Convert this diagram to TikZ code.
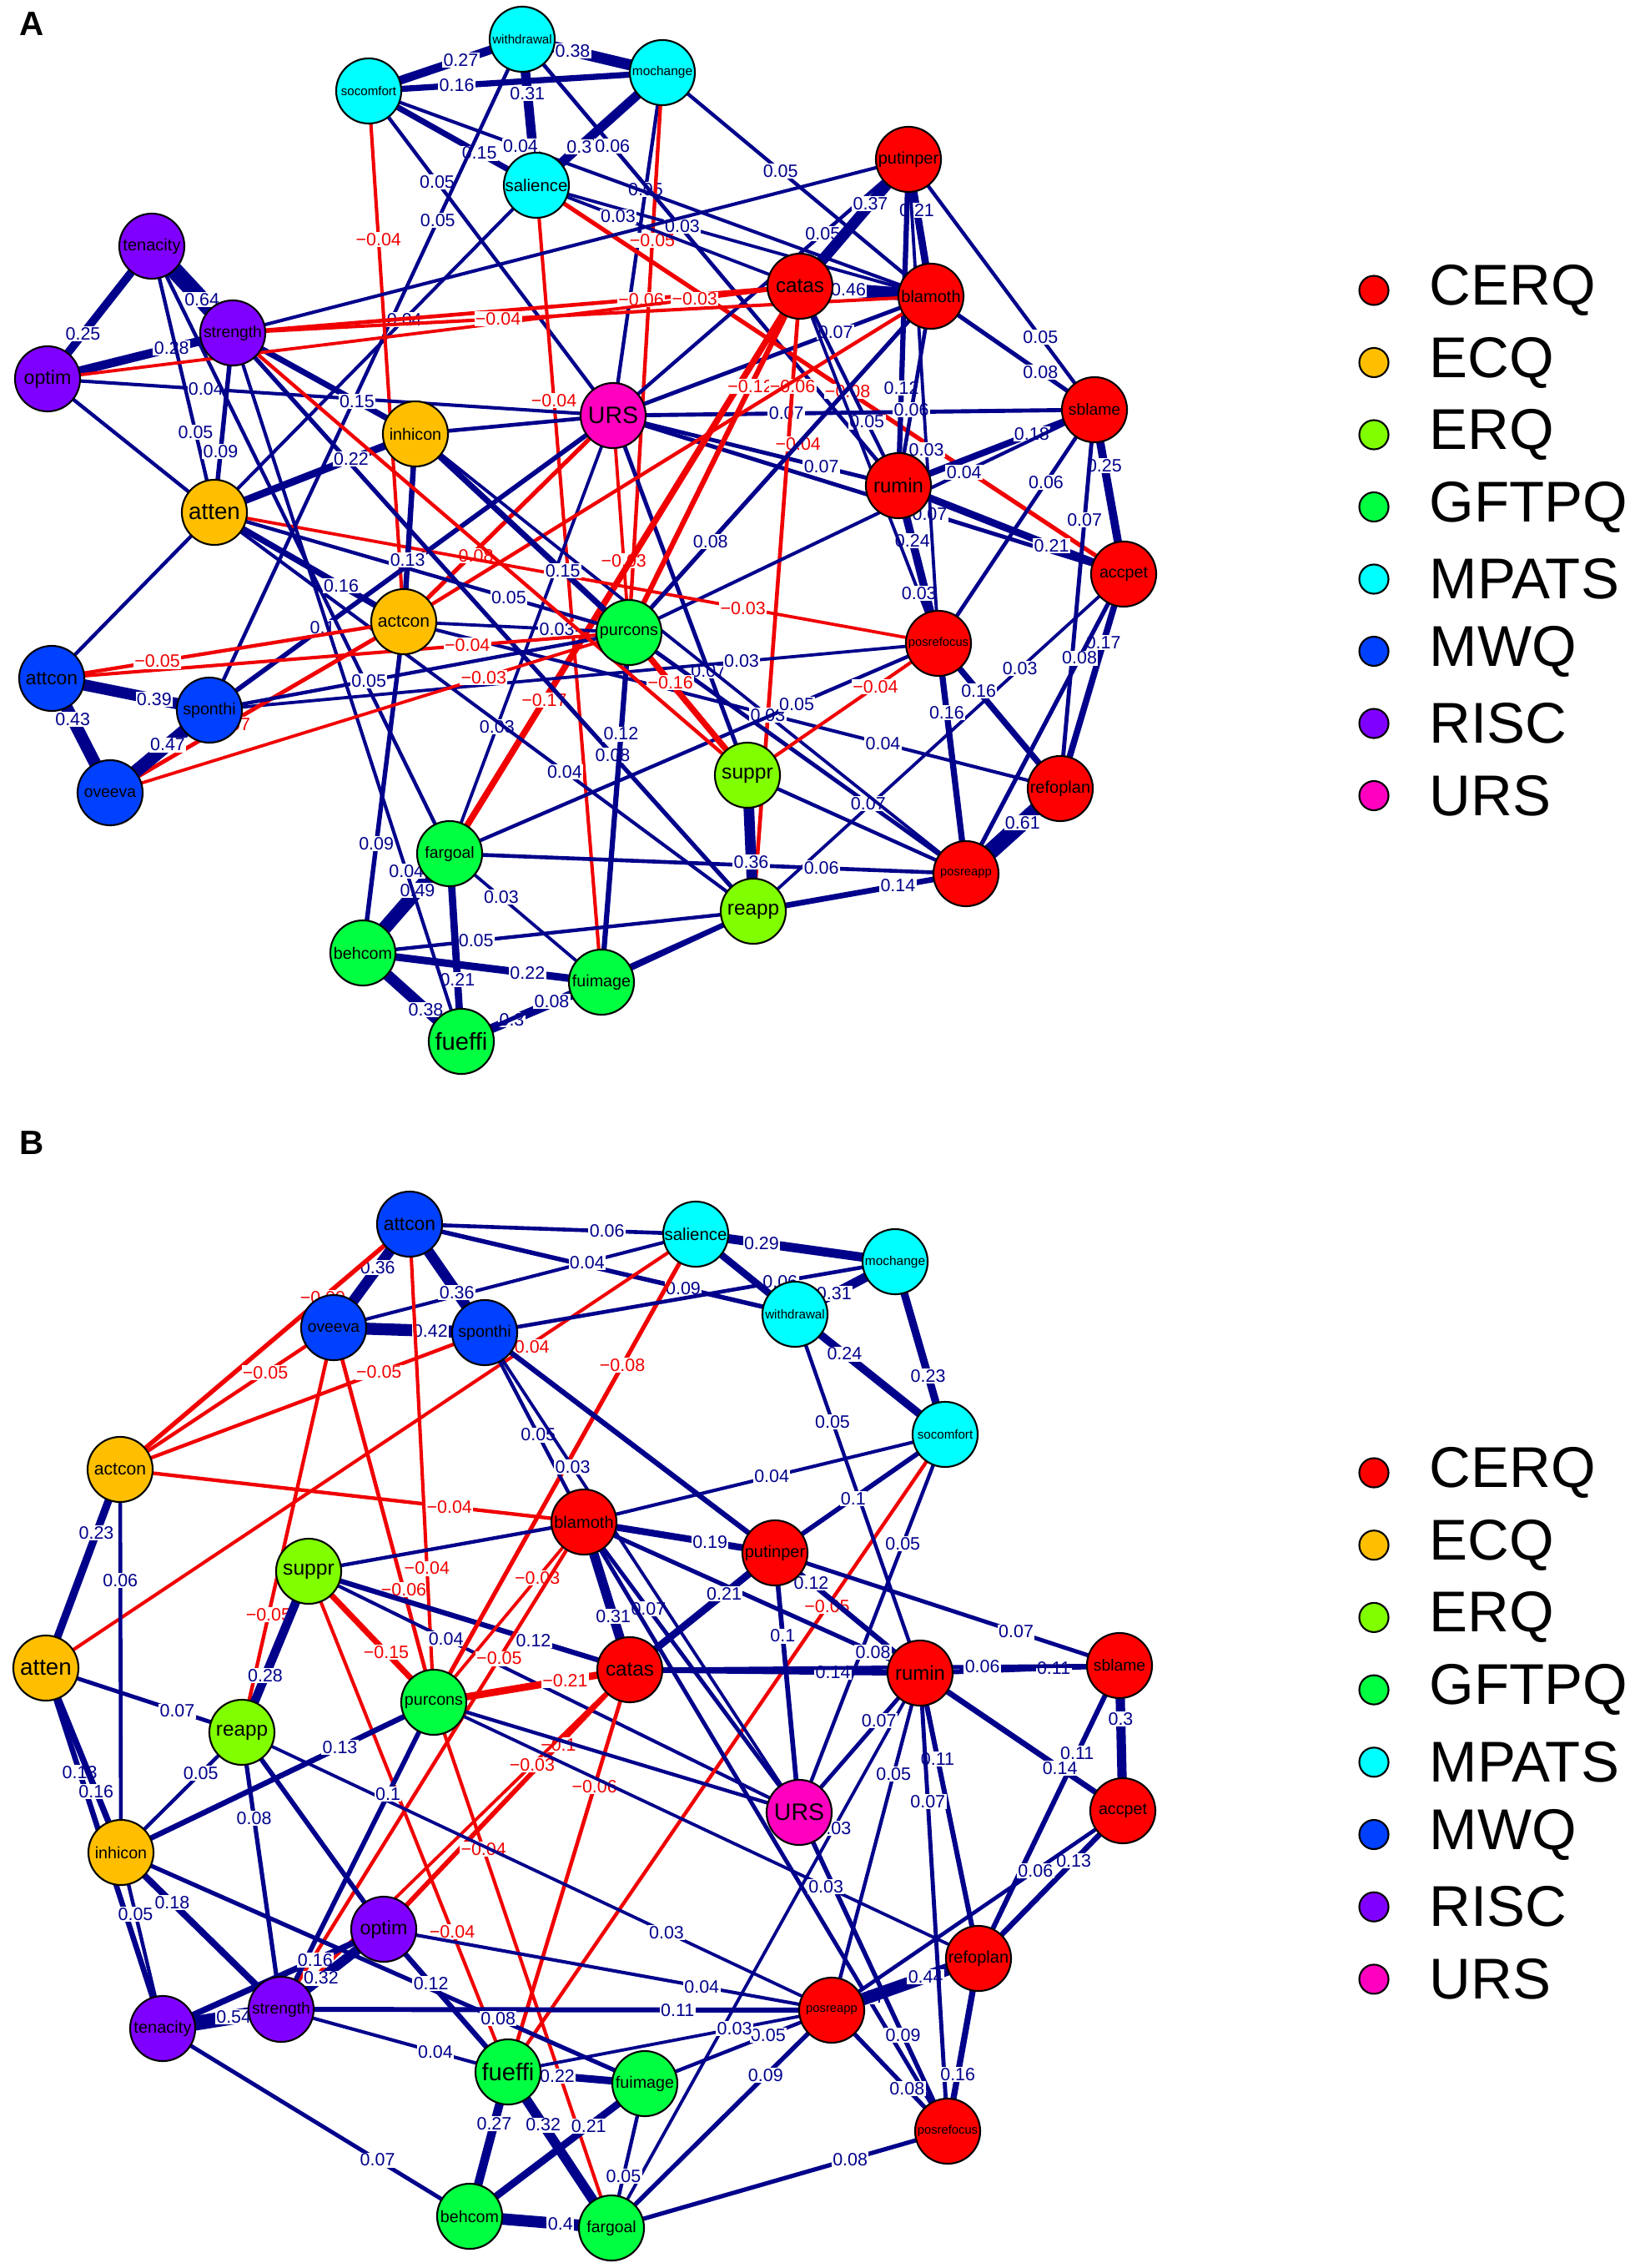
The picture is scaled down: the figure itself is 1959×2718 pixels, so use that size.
\documentclass[tikz,border=0pt]{standalone}
\usepackage{fontspec}
\setmainfont{Liberation Sans}
\newcommand{\nfs}[1]{\fontsize{#1}{#1}\selectfont}
\definecolor{cerqcol}{HTML}{FF0000}
\definecolor{ecqcol}{HTML}{FFBF00}
\definecolor{erqcol}{HTML}{80FF00}
\definecolor{gftpqcol}{HTML}{00FF40}
\definecolor{mpatscol}{HTML}{00FFFF}
\definecolor{mwqcol}{HTML}{0040FF}
\definecolor{risccol}{HTML}{8000FF}
\definecolor{urscol}{HTML}{FF00BF}
\definecolor{edgeblue}{HTML}{00008B}
\definecolor{edgered}{HTML}{F00000}
\pgfdeclarelayer{edgelayer}
\pgfsetlayers{edgelayer,main}
\begin{document}
\begin{tikzpicture}[x=0.01cm, y=-0.01cm]

      \tikzset{vert/.style={draw=black, circle, line width=0.6pt, inner sep=0pt, minimum size=0.78cm, text=black},
               cerq/.style={vert, fill=cerqcol}, ecq/.style={vert, fill=ecqcol}, erq/.style={vert, fill=erqcol},
               gftpq/.style={vert, fill=gftpqcol}, mpats/.style={vert, fill=mpatscol}, mwq/.style={vert, fill=mwqcol},
               risc/.style={vert, fill=risccol}, urs/.style={vert, fill=urscol},
               posw/.style={draw=edgeblue, line width={(0.85+7.7*#1)*1pt}},
               negw/.style={draw=edgered, line width={(0.85+7.7*#1)*1pt}},
               plab/.style={fill=white, inner sep=0.4pt, text=edgeblue, font=\nfs{6.1}},
               nlab/.style={fill=white, inner sep=0.4pt, text=edgered, font=\nfs{6.1}},
               legdot/.style={draw=black, circle, line width=0.6pt, inner sep=0pt, minimum size=0.35cm},
               legtxt/.style={anchor=west, inner sep=0pt, font=\nfs{19.6}},
               panel/.style={font=\bfseries\nfs{11.5}}}
      \useasboundingbox (0,0) rectangle (1959,2718);

%% Panel A vertices
      	\node[panel] (panA) at (38,29) {A};
      	\node[mpats, font=\nfs{4.3}] (aso) at (442,109) {socomfort};
      	\node[mpats, font=\nfs{4.3}] (awi) at (626,47) {withdrawal};
      	\node[mpats, font=\nfs{4.4}] (amo) at (794,87) {mochange};
      	\node[mpats, font=\nfs{5.8}] (asa) at (643,222) {salience};
      	\node[cerq, font=\nfs{5.7}] (apu) at (1089,191) {putinper};
      	\node[risc, font=\nfs{5.7}] (ate) at (182,295) {tenacity};
      	\node[cerq, font=\nfs{6.9}] (aca) at (959,343) {catas};
      	\node[cerq, font=\nfs{5.7}] (abl) at (1116,355) {blamoth};
      	\node[risc, font=\nfs{5.5}] (ast) at (279,399) {strength};
      	\node[risc, font=\nfs{6.6}] (aop) at (57,454) {optim};
      	\node[urs, font=\nfs{8.1}] (aur) at (735,498) {URS};
      	\node[ecq, font=\nfs{5.6}] (aih) at (498,520) {inhicon};
      	\node[cerq, font=\nfs{5.5}] (asb) at (1312,491) {sblame};
      	\node[cerq, font=\nfs{6.8}] (aru) at (1077,582) {rumin};
      	\node[ecq, font=\nfs{7.9}] (aat) at (257,614) {atten};
      	\node[cerq, font=\nfs{5.6}] (aac) at (1347,688) {accpet};
      	\node[ecq, font=\nfs{6.0}] (aan) at (484,745) {actcon};
      	\node[gftpq, font=\nfs{5.6}] (apc) at (754,758) {purcons};
      	\node[cerq, font=\nfs{4.2}] (apf) at (1125,771) {posrefocus};
      	\node[mwq, font=\nfs{6.5}] (aao) at (62,813) {attcon};
      	\node[mwq, font=\nfs{5.6}] (asp) at (251,851) {sponthi};
      	\node[mwq, font=\nfs{5.5}] (aov) at (132,950) {oveeva};
      	\node[erq, font=\nfs{7.0}] (asu) at (896,929) {suppr};
      	\node[cerq, font=\nfs{5.7}] (arf) at (1271,945) {refoplan};
      	\node[gftpq, font=\nfs{5.5}] (afg) at (539,1023) {fargoal};
      	\node[cerq, font=\nfs{4.2}] (apr) at (1158,1047) {posreapp};
      	\node[erq, font=\nfs{6.9}] (are) at (903,1092) {reapp};
      	\node[gftpq, font=\nfs{5.6}] (abc) at (435,1142) {behcom};
      	\node[gftpq, font=\nfs{5.6}] (afi) at (721,1177) {fuimage};
      	\node[gftpq, font=\nfs{8.3}] (afe) at (553,1248) {fueffi};

%% Panel B vertices
      	\node[panel] (panB) at (38,1370) {B};
      	\node[mwq, font=\nfs{6.5}] (bao) at (491,1467) {attcon};
      	\node[mpats, font=\nfs{5.8}] (bsa) at (834,1479) {salience};
      	\node[mpats, font=\nfs{4.4}] (bmo) at (1073,1512) {mochange};
      	\node[mwq, font=\nfs{5.5}] (bov) at (400,1591) {oveeva};
      	\node[mwq, font=\nfs{5.6}] (bsp) at (581,1597) {sponthi};
      	\node[mpats, font=\nfs{4.3}] (bwi) at (953,1575) {withdrawal};
      	\node[mpats, font=\nfs{4.3}] (bso) at (1133,1719) {socomfort};
      	\node[ecq, font=\nfs{6.0}] (ban) at (144,1761) {actcon};
      	\node[cerq, font=\nfs{5.7}] (bbl) at (700,1824) {blamoth};
      	\node[cerq, font=\nfs{5.7}] (bpu) at (929,1861) {putinper};
      	\node[erq, font=\nfs{7.0}] (bsu) at (370,1883) {suppr};
      	\node[ecq, font=\nfs{7.9}] (bat) at (55,1999) {atten};
      	\node[cerq, font=\nfs{6.9}] (bca) at (755,2001) {catas};
      	\node[gftpq, font=\nfs{5.6}] (bpc) at (520,2040) {purcons};
      	\node[cerq, font=\nfs{6.8}] (bru) at (1103,2005) {rumin};
      	\node[cerq, font=\nfs{5.5}] (bsb) at (1342,1996) {sblame};
      	\node[erq, font=\nfs{6.9}] (bre) at (290,2076) {reapp};
      	\node[urs, font=\nfs{8.1}] (bur) at (958,2172) {URS};
      	\node[cerq, font=\nfs{5.6}] (bac) at (1346,2170) {accpet};
      	\node[ecq, font=\nfs{5.6}] (bih) at (145,2220) {inhicon};
      	\node[risc, font=\nfs{6.6}] (bop) at (460,2312) {optim};
      	\node[cerq, font=\nfs{5.7}] (brf) at (1173,2347) {refoplan};
      	\node[cerq, font=\nfs{4.2}] (bpr) at (997,2409) {posreapp};
      	\node[risc, font=\nfs{5.7}] (bte) at (195,2431) {tenacity};
      	\node[risc, font=\nfs{5.5}] (bst) at (337,2408) {strength};
      	\node[gftpq, font=\nfs{8.3}] (bfe) at (609,2483) {fueffi};
      	\node[gftpq, font=\nfs{5.6}] (bfi) at (773,2497) {fuimage};
      	\node[cerq, font=\nfs{4.2}] (bpf) at (1136,2554) {posrefocus};
      	\node[gftpq, font=\nfs{5.6}] (bbc) at (563,2656) {behcom};
      	\node[gftpq, font=\nfs{5.5}] (bfg) at (733,2670) {fargoal};

%% Legends
      	\foreach \g/\c [count=\i from 0] in {CERQ/cerqcol, ECQ/ecqcol, ERQ/erqcol, GFTPQ/gftpqcol, MPATS/mpatscol, MWQ/mwqcol, RISC/risccol, URS/urscol} {
      	  \node[legdot, fill=\c] (ka\i) at (1647,{348+86.5*\i}) {};
      	  \node[legtxt] (kat\i) at (1713,{348+86.5*\i}) {\g};
      	  \node[legdot, fill=\c] (kb\i) at (1647,{1765+86.7*\i}) {};
      	  \node[legtxt] (kbt\i) at (1713,{1765+86.7*\i}) {\g};
      	}

\begin{pgfonlayer}{edgelayer}
%Edges A
		\path (aso.center) edge[posw=0.27] node[plab, pos=.60] {0.27} (awi.center);
		\path (aso.center) edge[posw=0.16] node[plab, pos=.30] {0.16} (amo.center);
		\path (awi.center) edge[posw=0.38] node[plab, pos=.36] {0.38} (amo.center);
		\path (awi.center) edge[posw=0.31] node[plab, pos=.37] {0.31} (asa.center);
		\path (amo.center) edge[posw=0.30] node[plab, pos=.66] {0.3} (asa.center);
		\path (aso.center) edge[posw=0.15] node[plab, pos=.66] {0.15} (asa.center);
		\path (aso.center) edge[posw=0.05] node[plab, pos=.28] {0.05} (aur.center);
		\path (awi.center) edge[posw=0.05] node[plab, pos=.27] {0.05} (asp.center);
		\path (amo.center) edge[posw=0.05] node[plab, pos=.34] {0.05} (aur.center);
		\path (amo.center) edge[negw=0.05] node[nlab, pos=.30] {−0.05} (apc.center);
		\path (amo.center) edge[posw=0.05] node[plab, pos=.44] {0.05} (abl.center);
		\path (awi.center) edge[posw=0.06] node[plab, pos=.24] {0.06} (aru.center);
		\path (asa.center) edge[posw=0.03] node[plab, pos=.37] {0.03} (abl.center);
		\path (asa.center) edge[posw=0.03] node[plab, pos=.31] {0.03} (aca.center);
		\path (asa.center) edge[negw=0.08] node[nlab, pos=.53] {−0.08} (aac.center);
		\path (asa.center) edge[posw=0.04] node[plab, pos=.41] {0.04} (aat.center);
		\path (asa.center) edge[negw=0.04] node[nlab, pos=.27] {−0.04} (afi.center);
		\path (aso.center) edge[negw=0.04] node[nlab, pos=.28] {−0.04} (aan.center);
		\path (aso.center) edge[posw=0.04] node[plab, pos=.27] {0.04} (abl.center);
		\path (aop.center) edge[posw=0.04] node[plab, pos=.28] {0.04} (aur.center);
		\path (aur.center) edge[posw=0.07] node[plab, pos=.36] {0.07} (asb.center);
		\path (aur.center) edge[posw=0.07] node[plab, pos=.73] {0.07} (aru.center);
		\path (aur.center) edge[posw=0.05] node[plab, pos=.71] {0.05} (apu.center);
		\path (aur.center) edge[posw=0.07] node[plab, pos=.70] {0.07} (abl.center);
		\path (aur.center) edge[posw=0.03] node[plab, pos=.71] {0.03} (afg.center);
		\path (aur.center) edge[posw=0.07] node[plab, pos=.71] {0.07} (asu.center);
		\path (aur.center) edge[negw=0.03] node[nlab, pos=.67] {−0.03} (apc.center);
		\path (aur.center) edge[negw=0.08] node[nlab, pos=.68] {−0.08} (aan.center);
		\path (aur.center) edge[posw=0.10] node[plab, pos=.72] {0.1} (asp.center);
		\path (aih.center) edge[posw=0.06] (aur.center);
		\path (aur.center) edge[posw=0.07] node[plab, pos=.62] {0.07} (aac.center);
		\path (apu.center) edge[posw=0.37] node[plab, pos=.35] {0.37} (aca.center);
		\path (apu.center) edge[posw=0.21] node[plab, pos=.37] {0.21} (abl.center);
		\path (apu.center) edge[posw=0.12] node[plab, pos=.70] {0.12} (aru.center);
		\path (apu.center) edge[posw=0.05] node[plab, pos=.71] {0.05} (asb.center);
		\path (abl.center) edge[posw=0.08] node[plab, pos=.67] {0.08} (asb.center);
		\path (aca.center) edge[posw=0.46] node[plab, pos=.37] {0.46} (abl.center);
		\path (aca.center) edge[posw=0.05] node[plab, pos=.68] {0.05} (aru.center);
		\path (aca.center) edge[negw=0.17] node[nlab, pos=.73] {−0.17} (afg.center);
		\path (aca.center) edge[negw=0.12] node[nlab, pos=.29] {−0.12} (apc.center);
		\path (aca.center) edge[negw=0.06] node[nlab, pos=.16] {−0.06} (are.center);
		\path (abl.center) edge[negw=0.04] node[nlab, pos=.44] {−0.04} (apc.center);
		\path (abl.center) edge[negw=0.05] (aan.center);
		\path (aru.center) edge[posw=0.18] node[plab, pos=.68] {0.18} (asb.center);
		\path (apc.center) edge[posw=0.04] node[plab, pos=.72] {0.04} (asb.center);
		\path (aru.center) edge[posw=0.21] node[plab, pos=.68] {0.21} (aac.center);
		\path (aru.center) edge[posw=0.24] node[plab, pos=.35] {0.24} (apf.center);
		\path (aca.center) edge[posw=0.03] node[plab, pos=.86] {0.03} (apf.center);
		\path (abl.center) edge[posw=0.06] node[plab, pos=.60] {0.06} (aru.center);
		\path (apu.center) edge[posw=0.03] node[plab, pos=.60] {0.03} (apf.center);
		\path (asb.center) edge[posw=0.25] node[plab, pos=.34] {0.25} (aac.center);
		\path (asb.center) edge[posw=0.07] node[plab, pos=.29] {0.07} (arf.center);
		\path (asb.center) edge[posw=0.06] node[plab, pos=.31] {0.06} (apf.center);
		\path (aac.center) edge[posw=0.17] node[plab, pos=.32] {0.17} (arf.center);
		\path (aac.center) edge[posw=0.08] node[plab, pos=.28] {0.08} (apr.center);
		\path (aac.center) edge[posw=0.03] node[plab, pos=.28] {0.03} (are.center);
		\path (apf.center) edge[posw=0.16] node[plab, pos=.33] {0.16} (arf.center);
		\path (apf.center) edge[posw=0.16] node[plab, pos=.30] {0.16} (apr.center);
		\path (arf.center) edge[posw=0.61] node[plab, pos=.40] {0.61} (apr.center);
		\path (apc.center) edge[posw=0.07] node[plab, pos=.71] {0.07} (apr.center);
		\path (aan.center) edge[posw=0.04] node[plab, pos=.73] {0.04} (arf.center);
		\path (aih.center) edge[posw=0.03] node[plab, pos=.64] {0.03} (apr.center);
		\path (afg.center) edge[posw=0.05] node[plab, pos=.71] {0.05} (apf.center);
		\path (asu.center) edge[negw=0.04] node[nlab, pos=.67] {−0.04} (apf.center);
		\path (aat.center) edge[negw=0.03] node[nlab, pos=.73] {−0.03} (apf.center);
		\path (asp.center) edge[posw=0.03] node[plab, pos=.73] {0.03} (apf.center);
		\path (apr.center) edge[posw=0.14] node[plab, pos=.32] {0.14} (are.center);
		\path (afg.center) edge[posw=0.06] node[plab, pos=.72] {0.06} (apr.center);
		\path (asu.center) edge[posw=0.05] (apr.center);
		\path (asu.center) edge[posw=0.36] node[plab, pos=.64] {0.36} (are.center);
		\path (are.center) edge[posw=0.10] (afi.center);
		\path (are.center) edge[posw=0.05] node[plab, pos=.71] {0.05} (abc.center);
		\path (ast.center) edge[posw=0.08] node[plab, pos=.73] {0.08} (are.center);
		\path (aat.center) edge[posw=0.04] node[plab, pos=.65] {0.04} (are.center);
		\path (afg.center) edge[posw=0.03] node[plab, pos=.34] {0.03} (afi.center);
		\path (afg.center) edge[posw=0.21] node[plab, pos=.67] {0.21} (afe.center);
		\path (afg.center) edge[posw=0.49] node[plab, pos=.37] {0.49} (abc.center);
		\path (abc.center) edge[posw=0.22] node[plab, pos=.69] {0.22} (afi.center);
		\path (abc.center) edge[posw=0.38] node[plab, pos=.64] {0.38} (afe.center);
		\path (afe.center) edge[posw=0.30] node[plab, pos=.36] {0.3} (afi.center);
		\path (are.center) edge[posw=0.08] node[plab, pos=.69] {0.08} (afe.center);
		\path (apc.center) edge[posw=0.12] node[plab, pos=.29] {0.12} (afi.center);
		\path (aan.center) edge[posw=0.09] node[plab, pos=.67] {0.09} (abc.center);
		\path (ast.center) edge[posw=0.04] node[plab, pos=.76] {0.04} (afe.center);
		\path (ate.center) edge[posw=0.05] (afg.center);
		\path (aat.center) edge[posw=0.05] node[plab, pos=.71] {0.05} (apc.center);
		\path (aih.center) edge[posw=0.15] node[plab, pos=.69] {0.15} (apc.center);
		\path (aih.center) edge[posw=0.13] node[plab, pos=.67] {0.13} (aan.center);
		\path (aan.center) edge[posw=0.03] node[plab, pos=.68] {0.03} (apc.center);
		\path (aao.center) edge[negw=0.04] node[nlab, pos=.72] {−0.04} (apc.center);
		\path (aao.center) edge[negw=0.05] node[nlab, pos=.30] {−0.05} (aan.center);
		\path (aov.center) edge[negw=0.03] node[nlab, pos=.72] {−0.03} (apc.center);
		\path (aov.center) edge[negw=0.07] node[nlab, pos=.40] {−0.07} (aan.center);
		\path (aov.center) edge[posw=0.47] node[plab, pos=.58] {0.47} (asp.center);
		\path (aao.center) edge[posw=0.39] node[plab, pos=.65] {0.39} (asp.center);
		\path (aao.center) edge[posw=0.43] node[plab, pos=.36] {0.43} (aov.center);
		\path (aao.center) edge[posw=0.05] (aat.center);
		\path (asp.center) edge[posw=0.05] node[plab, pos=.38] {0.05} (apc.center);
		\path (aat.center) edge[posw=0.16] node[plab, pos=.67] {0.16} (aan.center);
		\path (apc.center) edge[posw=0.08] node[plab, pos=.27] {0.08} (abl.center);
		\path (apc.center) edge[negw=0.16] node[nlab, pos=.35] {−0.16} (asu.center);
		\path (ate.center) edge[posw=0.25] node[plab, pos=.66] {0.25} (aop.center);
		\path (ate.center) edge[posw=0.64] node[plab, pos=.62] {0.64} (ast.center);
		\path (aop.center) edge[posw=0.28] node[plab, pos=.67] {0.28} (ast.center);
		\path (aop.center) edge[posw=0.05] (aat.center);
		\path (ate.center) edge[posw=0.05] node[plab, pos=.70] {0.05} (aat.center);
		\path (ast.center) edge[posw=0.09] node[plab, pos=.66] {0.09} (aat.center);
		\path (ast.center) edge[posw=0.15] node[plab, pos=.68] {0.15} (aih.center);
		\path (aat.center) edge[posw=0.22] node[plab, pos=.68] {0.22} (aih.center);
		\path (ast.center) edge[posw=0.04] (apu.center);
		\path (ast.center) edge[negw=0.06] node[nlab, pos=.72] {−0.06} (aca.center);
		\path (aop.center) edge[negw=0.03] node[nlab, pos=.86] {−0.03} (aca.center);
		\path (ast.center) edge[negw=0.04] node[nlab, pos=.38] {−0.04} (abl.center);
		\path (ast.center) edge[negw=0.05] (asu.center);
%Edges B
		\path (bao.center) edge[posw=0.06] node[plab, pos=.69] {0.06} (bsa.center);
		\path (bao.center) edge[posw=0.09] node[plab, pos=.71] {0.09} (bwi.center);
		\path (bsa.center) edge[posw=0.04] node[plab, pos=.30] {0.04} (bov.center);
		\path (bao.center) edge[posw=0.36] node[plab, pos=.63] {0.36} (bsp.center);
		\path (bov.center) edge[posw=0.42] node[plab, pos=.64] {0.42} (bsp.center);
		\path (bao.center) edge[posw=0.36] node[plab, pos=.42] {0.36} (bov.center);
		\path (bao.center) edge[negw=0.09] node[nlab, pos=.30] {−0.09} (ban.center);
		\path (bov.center) edge[negw=0.05] node[nlab, pos=.32] {−0.05} (ban.center);
		\path (bsp.center) edge[negw=0.05] node[nlab, pos=.29] {−0.05} (ban.center);
		\path (bsa.center) edge[negw=0.04] node[nlab, pos=.26] {−0.04} (bat.center);
		\path (ban.center) edge[negw=0.05] node[nlab, pos=.71] {−0.04} (bbl.center);
		\path (bov.center) edge[negw=0.05] node[nlab, pos=.71] {−0.05} (bre.center);
		\path (bov.center) edge[negw=0.06] node[nlab, pos=.70] {−0.06} (bpc.center);
		\path (bao.center) edge[negw=0.04] node[nlab, pos=.72] {−0.04} (bpc.center);
		\path (ban.center) edge[posw=0.23] node[plab, pos=.32] {0.23} (bat.center);
		\path (ban.center) edge[posw=0.06] node[plab, pos=.29] {0.06} (bih.center);
		\path (bat.center) edge[posw=0.07] node[plab, pos=.67] {0.07} (bre.center);
		\path (bsu.center) edge[posw=0.28] node[plab, pos=.65] {0.28} (bre.center);
		\path (bsu.center) edge[negw=0.15] node[nlab, pos=.62] {−0.15} (bpc.center);
		\path (bsu.center) edge[posw=0.04] node[plab, pos=.28] {0.04} (bur.center);
		\path (bsu.center) edge[posw=0.12] node[plab, pos=.70] {0.12} (bca.center);
		\path (bsu.center) edge[negw=0.04] node[nlab, pos=.72] {−0.04} (bfe.center);
		\path (bbl.center) edge[negw=0.03] node[nlab, pos=.31] {−0.03} (bpc.center);
		\path (bbl.center) edge[negw=0.05] node[nlab, pos=.28] {−0.05} (bst.center);
		\path (bca.center) edge[negw=0.10] node[nlab, pos=.29] {−0.1} (bop.center);
		\path (bca.center) edge[negw=0.03] node[nlab, pos=.28] {−0.03} (bst.center);
		\path (bpc.center) edge[negw=0.21] node[nlab, pos=.67] {−0.21} (bca.center);
		\path (bca.center) edge[negw=0.06] node[nlab, pos=.29] {−0.06} (bfe.center);
		\path (bpc.center) edge[negw=0.04] node[nlab, pos=.28] {−0.04} (bfg.center);
		\path (bso.center) edge[negw=0.05] node[nlab, pos=.27] {−0.05} (bfe.center);
		\path (bsa.center) edge[negw=0.08] node[nlab, pos=.28] {−0.08} (bpc.center);
		\path (bsp.center) edge[posw=0.06] node[plab, pos=.72] {0.06} (bmo.center);
		\path (bsa.center) edge[posw=0.20] (bwi.center);
		\path (bsa.center) edge[posw=0.29] node[plab, pos=.33] {0.29} (bmo.center);
		\path (bwi.center) edge[posw=0.31] node[plab, pos=.39] {0.31} (bmo.center);
		\path (bmo.center) edge[posw=0.23] node[plab, pos=.66] {0.23} (bso.center);
		\path (bwi.center) edge[posw=0.24] node[plab, pos=.33] {0.24} (bso.center);
		\path (bwi.center) edge[posw=0.05] node[plab, pos=.30] {0.05} (bru.center);
		\path (bso.center) edge[posw=0.05] node[plab, pos=.29] {0.05} (bur.center);
		\path (bso.center) edge[posw=0.10] node[plab, pos=.54] {0.1} (bpu.center);
		\path (bso.center) edge[posw=0.04] node[plab, pos=.48] {0.04} (bbl.center);
		\path (bpu.center) edge[posw=0.12] node[plab, pos=.25] {0.12} (bru.center);
		\path (bbl.center) edge[posw=0.08] node[plab, pos=.86] {0.08} (bru.center);
		\path (bsp.center) edge[posw=0.12] (bpu.center);
		\path (bbl.center) edge[posw=0.07] node[plab, pos=.30] {0.07} (bur.center);
		\path (bbl.center) edge[posw=0.07] node[plab, pos=.78] {0.07} (bpf.center);
		\path (bbl.center) edge[posw=0.19] node[plab, pos=.66] {0.19} (bpu.center);
		\path (bbl.center) edge[posw=0.31] node[plab, pos=.64] {0.31} (bca.center);
		\path (bca.center) edge[posw=0.21] node[plab, pos=.65] {0.21} (bpu.center);
		\path (bca.center) edge[posw=0.14] node[plab, pos=.70] {0.14} (bru.center);
		\path (bpu.center) edge[posw=0.10] node[plab, pos=.32] {0.1} (bur.center);
		\path (bpu.center) edge[posw=0.07] node[plab, pos=.70] {0.07} (bsb.center);
		\path (bru.center) edge[posw=0.11] node[plab, pos=.67] {0.11} (bsb.center);
		\path (bca.center) edge[posw=0.06] node[plab, pos=.72] {0.06} (bsb.center);
		\path (bsb.center) edge[posw=0.30] node[plab, pos=.37] {0.3} (bac.center);
		\path (bsb.center) edge[posw=0.11] node[plab, pos=.30] {0.11} (brf.center);
		\path (bru.center) edge[posw=0.14] node[plab, pos=.69] {0.14} (bac.center);
		\path (bac.center) edge[posw=0.13] node[plab, pos=.34] {0.13} (brf.center);
		\path (bac.center) edge[posw=0.06] node[plab, pos=.30] {0.06} (bpr.center);
		\path (brf.center) edge[posw=0.44] node[plab, pos=.36] {0.44} (bpr.center);
		\path (bur.center) edge[posw=0.09] node[plab, pos=.70] {0.09} (bpf.center);
		\path (bru.center) edge[posw=0.03] node[plab, pos=.28] {0.03} (bfg.center);
		\path (bpc.center) edge[posw=0.03] node[plab, pos=.72] {0.03} (brf.center);
		\path (bru.center) edge[posw=0.05] node[plab, pos=.30] {0.05} (bpr.center);
		\path (bru.center) edge[posw=0.11] node[plab, pos=.30] {0.11} (brf.center);
		\path (bru.center) edge[posw=0.07] node[plab, pos=.28] {0.07} (bpf.center);
		\path (bru.center) edge[posw=0.07] node[plab, pos=.34] {0.07} (bur.center);
		\path (brf.center) edge[posw=0.16] node[plab, pos=.67] {0.16} (bpf.center);
		\path (bpr.center) edge[posw=0.08] node[plab, pos=.65] {0.08} (bpf.center);
		\path (bpf.center) edge[posw=0.08] node[plab, pos=.29] {0.08} (bfg.center);
		\path (bfg.center) edge[posw=0.09] node[plab, pos=.70] {0.09} (bpr.center);
		\path (bfi.center) edge[posw=0.05] node[plab, pos=.66] {0.05} (bpr.center);
		\path (bfe.center) edge[posw=0.03] node[plab, pos=.70] {0.03} (bpr.center);
		\path (bst.center) edge[posw=0.11] node[plab, pos=.72] {0.11} (bpr.center);
		\path (bop.center) edge[posw=0.04] node[plab, pos=.71] {0.04} (bpr.center);
		\path (bre.center) edge[posw=0.03] node[plab, pos=.72] {0.03} (bpr.center);
		\path (bpc.center) edge[posw=0.10] node[plab, pos=.30] {0.1} (bst.center);
		\path (bih.center) edge[posw=0.13] node[plab, pos=.70] {0.13} (bpc.center);
		\path (bih.center) edge[posw=0.05] node[plab, pos=.66] {0.05} (bre.center);
		\path (bre.center) edge[posw=0.08] node[plab, pos=.31] {0.08} (bst.center);
		\path (bat.center) edge[posw=0.13] node[plab, pos=.29] {0.13} (bte.center);
		\path (bat.center) edge[posw=0.16] node[plab, pos=.67] {0.16} (bih.center);
		\path (bih.center) edge[posw=0.05] node[plab, pos=.35] {0.05} (bte.center);
		\path (bih.center) edge[posw=0.18] node[plab, pos=.32] {0.18} (bst.center);
		\path (bih.center) edge[posw=0.08] node[plab, pos=.72] {0.08} (bfi.center);
		\path (bte.center) edge[posw=0.54] node[plab, pos=.60] {0.54} (bst.center);
		\path (bte.center) edge[posw=0.16] node[plab, pos=.69] {0.16} (bop.center);
		\path (bst.center) edge[posw=0.32] node[plab, pos=.39] {0.32} (bop.center);
		\path (bte.center) edge[posw=0.07] node[plab, pos=.70] {0.07} (bbc.center);
		\path (bop.center) edge[posw=0.12] node[plab, pos=.38] {0.12} (bfe.center);
		\path (bst.center) edge[posw=0.04] node[plab, pos=.68] {0.04} (bfe.center);
		\path (bfe.center) edge[posw=0.22] node[plab, pos=.36] {0.22} (bfi.center);
		\path (bfe.center) edge[posw=0.27] node[plab, pos=.36] {0.27} (bbc.center);
		\path (bfe.center) edge[posw=0.32] node[plab, pos=.34] {0.32} (bfg.center);
		\path (bfi.center) edge[posw=0.21] node[plab, pos=.32] {0.21} (bbc.center);
		\path (bfi.center) edge[posw=0.05] node[plab, pos=.64] {0.05} (bfg.center);
		\path (bbc.center) edge[posw=0.40] node[plab, pos=.64] {0.4} (bfg.center);
		\path (bsp.center) edge[posw=0.05] node[plab, pos=.54] {0.05} (bbl.center);
		\path (bsp.center) edge[posw=0.03] node[plab, pos=.28] {0.03} (bur.center);
		\path (bsu.center) edge[posw=0.05] (bbl.center);
		\path (bre.center) edge[posw=0.10] (bop.center);
		\path (bpc.center) edge[posw=0.05] (bur.center);
\end{pgfonlayer}

	\end{tikzpicture}
\end{document}
